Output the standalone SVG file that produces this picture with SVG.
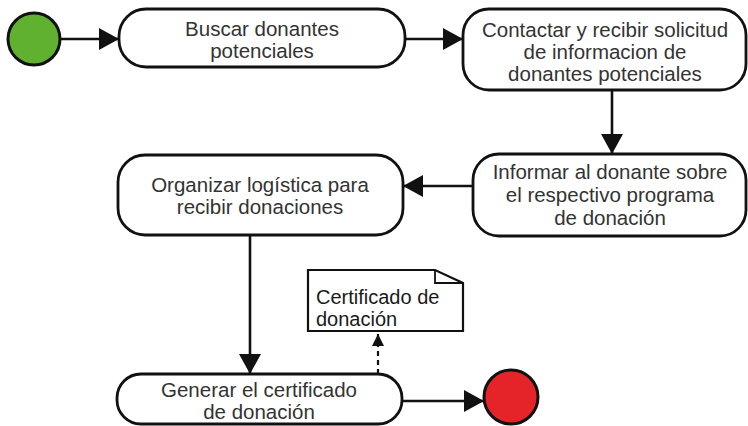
<svg xmlns="http://www.w3.org/2000/svg" width="748" height="426" viewBox="0 0 748 426">
<style>
.box{fill:#fff;stroke:#111;stroke-width:2.8}
.t{font-family:"Liberation Sans",Arial,sans-serif;font-size:20.5px;fill:#333;text-anchor:middle}
.tl{font-family:"Liberation Sans",Arial,sans-serif;font-size:20px;fill:#1a1a1a}
.ln{fill:none;stroke:#111;stroke-width:2.6}
.dash{fill:none;stroke:#111;stroke-width:2.2;stroke-dasharray:5,4}
</style>
<defs>
<marker id="ah" markerUnits="userSpaceOnUse" markerWidth="22" markerHeight="24" refX="20" refY="11" orient="auto">
<path d="M0,0 L20,11 L0,22 Z" fill="#111"/>
</marker>
<marker id="ahs" markerUnits="userSpaceOnUse" markerWidth="14" markerHeight="14" refX="12" refY="6" orient="auto">
<path d="M0,0 L12,6 L0,12 Z" fill="#111"/>
</marker>
</defs>
<g id="start"><circle cx="34" cy="39" r="26" fill="#5fb12f" stroke="#111" stroke-width="3"/></g>
<g id="n1"><rect class="box" x="119" y="9" width="286" height="58" rx="27"/>
<text class="t" x="262" y="36">Buscar donantes</text><text class="t" x="262" y="58">potenciales</text></g>
<g id="n2"><rect class="box" x="463" y="9" width="283" height="81" rx="26"/>
<text class="t" x="605" y="37">Contactar y recibir solicitud</text><text class="t" x="605" y="59">de informacion de</text><text class="t" x="605" y="81">donantes potenciales</text></g>
<g id="n3"><rect class="box" x="473" y="154" width="273" height="82" rx="26"/>
<text class="t" x="610" y="179">Informar al donante sobre</text><text class="t" x="610" y="202">el respectivo programa</text><text class="t" x="610" y="225">de donación</text></g>
<g id="n4"><rect class="box" x="118" y="155" width="285" height="80" rx="27"/>
<text class="t" x="260" y="192">Organizar logística para</text><text class="t" x="260" y="214">recibir donaciones</text></g>
<g id="n5"><rect class="box" x="117" y="374" width="285" height="50" rx="24"/>
<text class="t" x="259" y="397">Generar el certificado</text><text class="t" x="259" y="419">de donación</text></g>
<g id="note"><path d="M308,270 L435,270 L463,283 L463,331 L308,331 Z" fill="#fff" stroke="#111" stroke-width="2.2"/>
<path d="M435,270 L435,283 L463,283" fill="none" stroke="#111" stroke-width="1.8"/>
<text class="tl" x="316" y="304">Certificado de</text><text class="tl" x="316" y="326">donación</text></g>
<g id="end"><circle cx="511" cy="397" r="27" fill="#e5242a" stroke="#111" stroke-width="3"/></g>
<g id="connectors">
<line class="ln" x1="60" y1="39" x2="119" y2="39" marker-end="url(#ah)"/>
<line class="ln" x1="405" y1="39" x2="463" y2="39" marker-end="url(#ah)"/>
<line class="ln" x1="612" y1="90" x2="612" y2="154" marker-end="url(#ah)"/>
<line class="ln" x1="473" y1="186" x2="403" y2="186" marker-end="url(#ah)"/>
<line class="ln" x1="250" y1="235" x2="250" y2="374" marker-end="url(#ah)"/>
<line class="ln" x1="402" y1="401" x2="484" y2="401" marker-end="url(#ah)"/>
<line class="dash" x1="378" y1="374" x2="378" y2="334" marker-end="url(#ahs)"/>
</g>
</svg>
